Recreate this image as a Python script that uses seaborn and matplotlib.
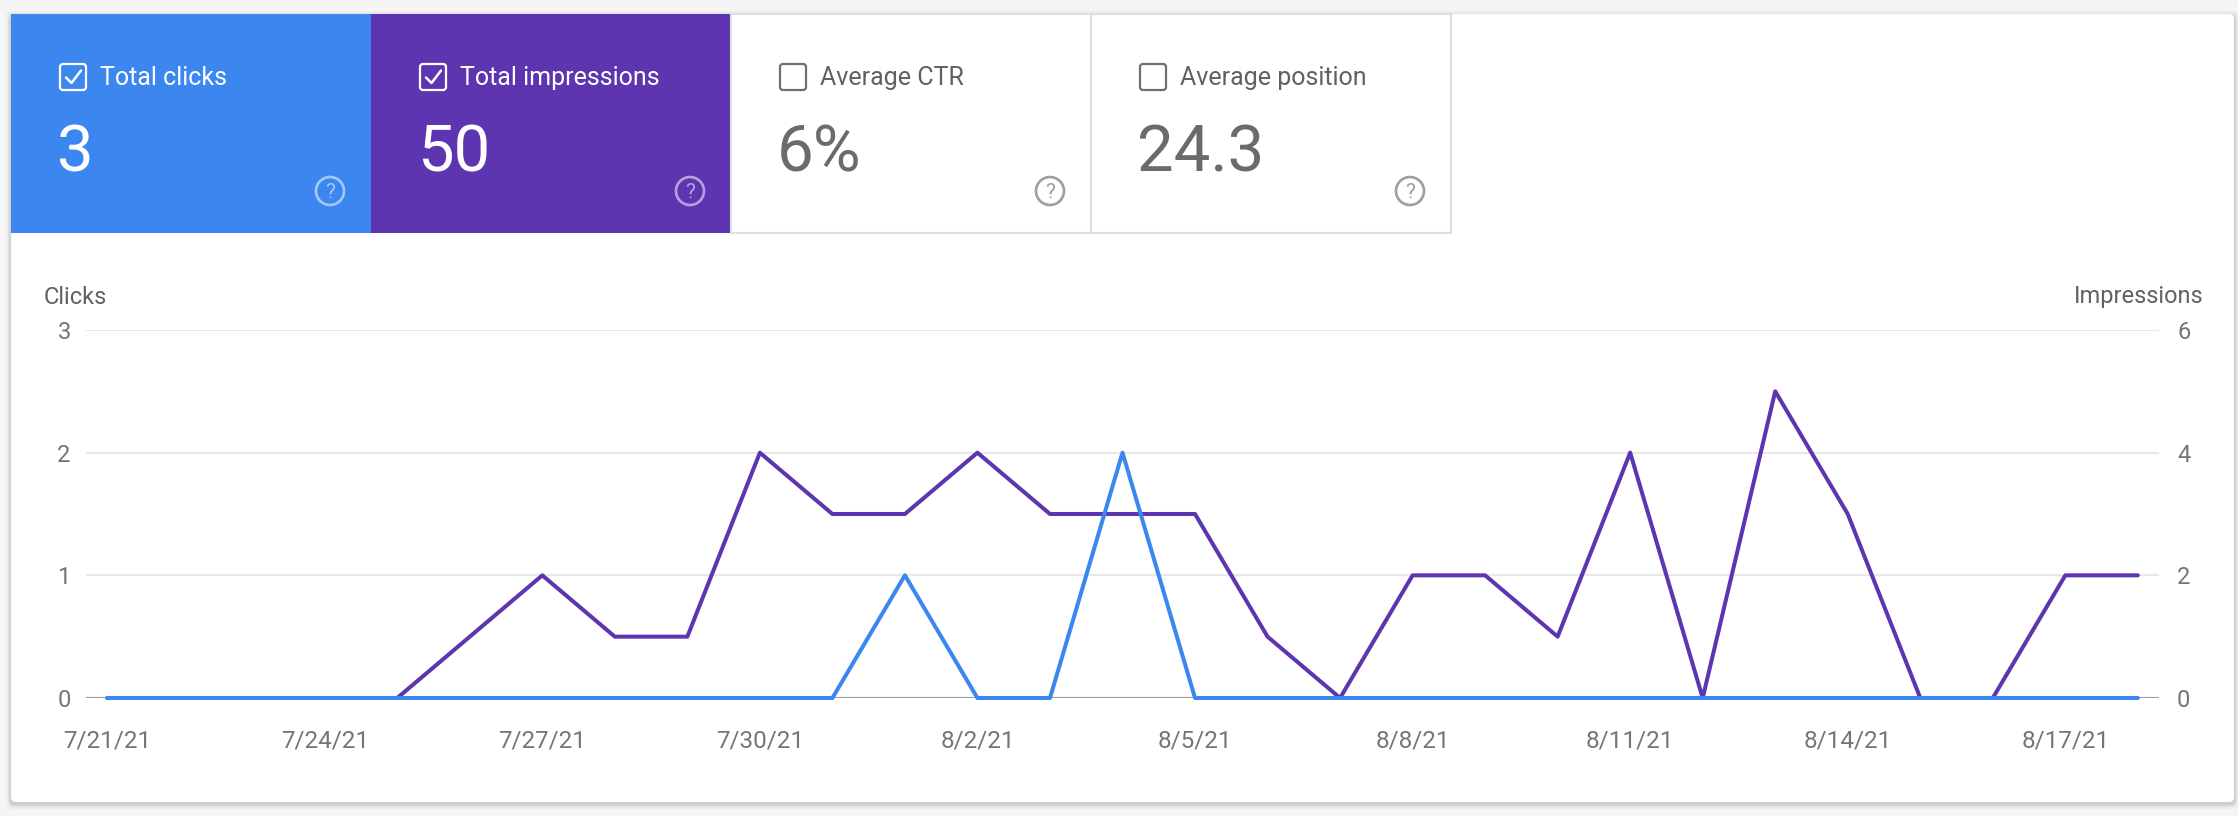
import matplotlib
matplotlib.use("Agg")
import numpy as np
import pandas as pd
import matplotlib.pyplot as plt
from matplotlib.patches import Rectangle, FancyBboxPatch, Circle
from matplotlib.lines import Line2D
import seaborn as sns

# data
dates = pd.date_range("2021-07-21", "2021-08-18", freq="D")
clicks = [0, 0, 0, 0, 0, 0, 0, 0, 0, 0, 0, 1, 0, 0, 2,
          0, 0, 0, 0, 0, 0, 0, 0, 0, 0, 0, 0, 0, 0]
impressions = [0, 0, 0, 0, 0, 1, 2, 1, 1, 4, 3, 3, 4, 3, 3,
               3, 1, 0, 2, 2, 1, 4, 0, 5, 3, 0, 0, 2, 2]
tile_labels = ["Total clicks", "Total impressions", "Average CTR", "Average position"]
tile_values = ["3", "50", "6%", "24.3"]
tile_checked = [True, True, False, False]
clicks_ticks = [0, 1, 2, 3]
impr_ticks = [0, 2, 4, 6]

blue = "#3b87ef"
purple = "#5e35b1"
grey_txt = "#6f6f6f"

sns.set_theme(style="white")
plt.rcParams["font.family"] = ["Roboto", "DejaVu Sans"]

W, H = 2238, 816
fig = plt.figure(figsize=(W / 100, H / 100), dpi=100, facecolor="#f5f5f5")

# background layer in pixel coords (y down)
bg = fig.add_axes([0, 0, 1, 1])
bg.set_xlim(0, W)
bg.set_ylim(H, 0)
bg.axis("off")

# card with soft shadow
for off, a in [(5, 0.03), (3, 0.05), (1.5, 0.08)]:
    bg.add_patch(FancyBboxPatch((11 - off, 14 - off + 2), 2223 + 2 * off, 788 + 2 * off,
                                boxstyle="round,pad=0,rounding_size=6",
                                fc="black", ec="none", alpha=a))
bg.add_patch(FancyBboxPatch((11, 14), 2223, 788, boxstyle="round,pad=0,rounding_size=5",
                            fc="white", ec="none"))

# metric tiles
tile_x = [11, 371, 731, 1091]
tile_w, tile_top, tile_h = 360, 14, 219
tile_bg = [blue, purple, "white", "white"]
for x0, lab, val, chk, fc in zip(tile_x, tile_labels, tile_values, tile_checked, tile_bg):
    if fc == "white":
        bg.add_patch(Rectangle((x0, tile_top), tile_w, tile_h, fc="white",
                               ec="#dedede", lw=1.5))
        fg, lab_c, val_c, help_c, help_a = grey_txt, "#616161", "#6b6b6b", "#9e9e9e", 1.0
    else:
        bg.add_patch(Rectangle((x0, tile_top), tile_w, tile_h, fc=fc, ec="none"))
        fg, lab_c, val_c, help_c, help_a = "white", "white", "white", "white", 0.55

    bg.add_patch(FancyBboxPatch((x0 + 49, 64), 26, 26, boxstyle="round,pad=0,rounding_size=3",
                                fc="none", ec=fg, lw=1.6))
    if chk:
        bg.add_line(Line2D([x0 + 55, x0 + 60.5, x0 + 70], [77.5, 83, 70.5], color="white", lw=1.8))
    bg.text(x0 + 89, 78, lab, va="center", ha="left", fontsize=18, color=lab_c)
    bg.text(x0 + 46, 171, val, va="baseline", ha="left", fontsize=47, color=val_c)
    bg.add_patch(Circle((x0 + tile_w - 41, 191), 14, fill=False, ec=help_c, lw=1.9, alpha=help_a))
    bg.text(x0 + tile_w - 41, 192, "?", ha="center", va="center", fontsize=15,
            color=help_c, alpha=help_a)

# axis titles
bg.text(44, 297, "Clicks", ha="left", va="center", fontsize=17, color="#616161")
bg.text(2203, 297, "Impressions", ha="right", va="center", fontsize=17, color="#616161")

# chart
ax = fig.add_axes([86 / W, 1 - 698 / H, (2159 - 86) / W, (698 - 330) / H])
ax2 = ax.twinx()
ax.set_zorder(3)
ax.patch.set_visible(False)

sns.lineplot(x=dates, y=impressions, ax=ax2, color=purple, linewidth=2.9)
sns.lineplot(x=dates, y=clicks, ax=ax, color=blue, linewidth=2.9)
for l in ax.lines + ax2.lines:
    l.set_clip_on(False)
    l.set_solid_joinstyle("round")

ax.set_ylim(0, 3)
ax2.set_ylim(0, 6)
ax.set_yticks(clicks_ticks)
ax2.set_yticks(impr_ticks)
ax.set_xlim(dates[0] - pd.Timedelta(hours=7), dates[-1] + pd.Timedelta(hours=7))
ax.set_xticks(dates[::3])
ax.set_xticklabels([f"{d.month}/{d.day}/{d:%y}" for d in dates[::3]])

ax2.set_zorder(1)
ax2.grid(False)
ax.grid(False)
for y in clicks_ticks[1:]:
    ax2.axhline(y * 2, color="#e8e8e8", lw=1.5, zorder=0)
ax.axhline(0, color="#9e9e9e", lw=1.5, zorder=1)

for a in (ax, ax2):
    a.set_xlabel("")
    a.set_ylabel("")
    for s in a.spines.values():
        s.set_visible(False)
ax.tick_params(axis="y", length=0, pad=11, labelsize=17, labelcolor="#757575")
ax.tick_params(axis="x", length=0, pad=23, labelsize=17.5, labelcolor="#757575")
ax2.tick_params(axis="y", length=0, pad=13, labelsize=17, labelcolor="#757575")

fig.savefig("out.png", dpi=100, facecolor=fig.get_facecolor())
